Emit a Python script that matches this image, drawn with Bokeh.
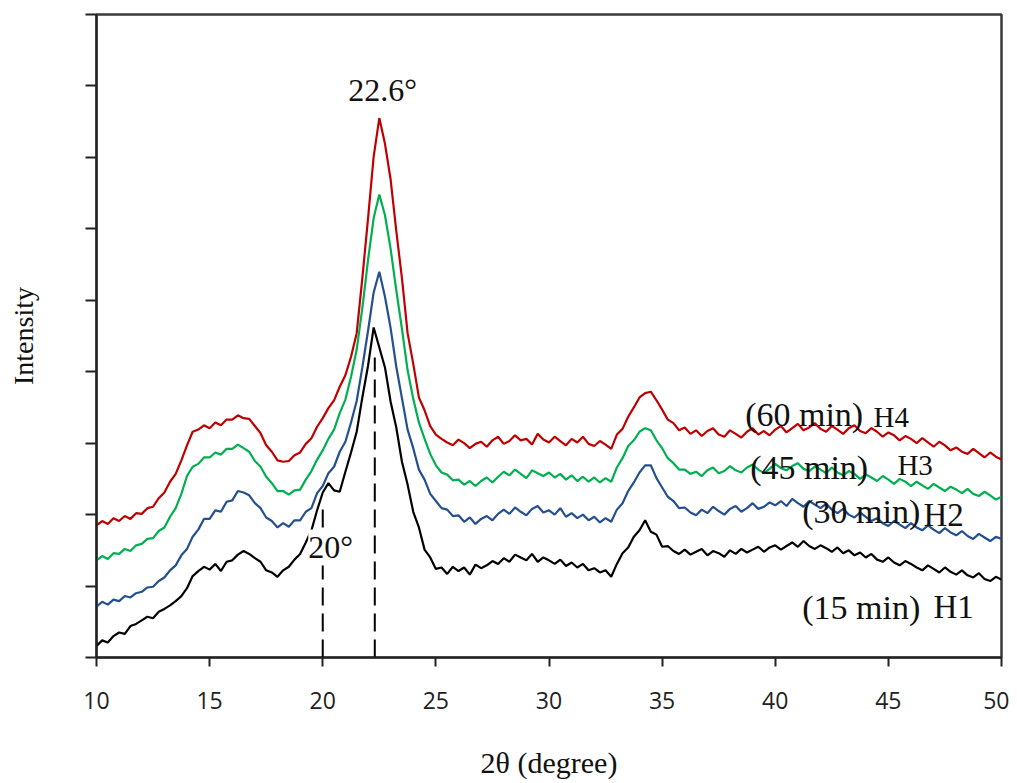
import numpy as np
from bokeh.plotting import figure
from bokeh.models import Label, FixedTicker
from bokeh.core.properties import value
from bokeh.embed import file_html
from bokeh.resources import INLINE

# ---- data (2theta from 10 to 50 deg, step 0.25) ----
X_START = 10.0
X_STEP = 0.25

h1_15min = [
    16, 24, 21, 30, 35, 33, 44, 47,
    52, 57, 55, 64, 68, 73, 79, 86,
    97, 114, 121, 127, 123, 131, 121, 134,
    136, 144, 149, 145, 139, 134, 122, 119,
    113, 122, 127, 137, 145, 161, 178, 206,
    231, 244, 234, 232, 260, 287, 316, 364,
    408, 462, 434, 406, 358, 322, 274, 242,
    204, 182, 151, 140, 124, 126, 117, 127,
    121, 126, 116, 130, 125, 129, 135, 131,
    139, 134, 144, 140, 136, 145, 134, 140,
    136, 131, 137, 128, 133, 126, 131, 122,
    125, 119, 122, 113, 131, 146, 154, 169,
    178, 192, 176, 172, 155, 156, 149, 145,
    151, 144, 148, 152, 143, 149, 146, 141,
    150, 145, 152, 147, 151, 155, 148, 154,
    157, 151, 156, 161, 155, 163, 156, 152,
    157, 153, 148, 154, 146, 150, 143, 147,
    140, 145, 137, 134, 140, 133, 129, 135,
    131, 126, 122, 129, 124, 119, 126, 120,
    116, 122, 115, 112, 118, 110, 107, 113,
    109,
]

h2_30min = [
    71, 78, 74, 81, 79, 86, 84, 90,
    92, 98, 99, 107, 112, 122, 129, 143,
    152, 169, 179, 194, 194, 206, 204, 218,
    220, 233, 231, 227, 216, 209, 196, 191,
    182, 188, 183, 192, 192, 204, 209, 230,
    240, 258, 267, 288, 302, 329, 359, 406,
    457, 511, 540, 505, 461, 407, 363, 319,
    293, 263, 249, 229, 219, 209, 207, 198,
    199, 190, 196, 187, 194, 198, 192, 201,
    207, 201, 210, 204, 199, 208, 212, 203,
    206, 200, 209, 197, 202, 195, 200, 192,
    197, 189, 195, 190, 207, 216, 233, 245,
    259, 269, 269, 251, 238, 225, 219, 209,
    210, 203, 199, 207, 202, 211, 205, 200,
    208, 212, 204, 209, 216, 208, 211, 217,
    213, 219, 212, 222, 216, 211, 219, 214,
    209, 215, 207, 202, 208, 200, 196, 203,
    197, 191, 195, 188, 184, 191, 186, 181,
    188, 182, 178, 185, 179, 174, 181, 175,
    171, 177, 170, 166, 173, 168, 163, 169,
    166,
]

h3_45min = [
    136, 142, 138, 146, 145, 152, 149, 157,
    159, 166, 167, 177, 182, 197, 209, 229,
    254, 267, 271, 280, 280, 287, 284, 292,
    292, 298, 293, 288, 275, 267, 253, 244,
    233, 233, 228, 234, 235, 249, 261, 277,
    290, 306, 319, 342, 361, 393, 431, 489,
    556, 615, 648, 619, 572, 514, 460, 402,
    362, 329, 306, 285, 269, 259, 256, 248,
    249, 242, 247, 240, 247, 252, 245, 253,
    260, 255, 263, 257, 251, 262, 258, 254,
    259, 252, 257, 249, 255, 247, 253, 246,
    252, 245, 251, 246, 266, 279, 296, 304,
    316, 321, 318, 304, 293, 279, 272, 263,
    263, 257, 260, 254, 262, 266, 258, 261,
    268, 262, 259, 266, 270, 263, 258, 264,
    271, 265, 262, 268, 272, 264, 261, 267,
    263, 258, 266, 259, 255, 261, 257, 250,
    256, 252, 247, 254, 249, 243, 250, 246,
    240, 246, 241, 236, 243, 238, 233, 239,
    235, 230, 236, 229, 226, 232, 227, 221,
    225,
]

h4_60min = [
    185, 191, 187, 195, 191, 198, 194, 202,
    201, 209, 211, 223, 231, 246, 257, 276,
    297, 316, 319, 325, 321, 329, 325, 333,
    333, 339, 335, 334, 324, 314, 297, 288,
    276, 274, 275, 283, 287, 299, 307, 323,
    335, 349, 360, 379, 395, 421, 454, 531,
    614, 701, 755, 719, 669, 597, 531, 454,
    411, 364, 346, 324, 312, 306, 301, 297,
    305, 300, 293, 299, 302, 295, 304, 309,
    299, 303, 311, 304, 306, 298, 313, 305,
    301, 309, 303, 297, 306, 301, 309, 299,
    296, 303, 298, 292, 312, 320, 337, 350,
    364, 370, 372, 360, 347, 333, 328, 318,
    322, 313, 318, 310, 317, 321, 312, 309,
    318, 313, 308, 316, 321, 312, 317, 311,
    319, 324, 315, 321, 327, 318, 322, 328,
    320, 316, 324, 319, 313, 321, 325, 317,
    314, 321, 316, 309, 315, 311, 304, 310,
    306, 300, 307, 301, 295, 302, 297, 290,
    294, 288, 285, 292, 286, 280, 287, 281,
    277,
]

series_colors = ["#C00000", "#00B050", "#25508F", "#000000"]
series_values = [h4_60min, h3_45min, h2_30min, h1_15min]

x_ticks = [10, 15, 20, 25, 30, 35, 40, 45, 50]
y_ticks = [0, 100, 200, 300, 400, 500, 600, 700, 800, 900]

# reference dashed markers
dash_x = [20.0, 22.3]
dash_top = [215, 420]

# annotation texts
peak_label = "22.6°"
peak_label_xy = (22.65, 795)
shoulder_label = "20°"
shoulder_label_xy = (20.35, 154)
time_labels = ["(60 min)", "(45 min)", "(30 min)", "(15 min)"]
time_label_x = [38.67, 38.89, 41.19, 41.19]
time_label_y = [340, 266, 204, 70]
h_labels = ["H4", "H3", "H2", "H1"]
h_label_x = [44.34, 45.40, 46.55, 46.99]
h_label_y = [336, 270, 200, 70]
h_label_size = ["29px", "29px", "33px", "33px"]

SERIF = "Liberation Serif"

p = figure(width=1009, height=781, output_backend="svg", toolbar_location=None,
           x_range=(10, 50), y_range=(0, 900),
           min_border_left=96, min_border_right=8, min_border_top=14, min_border_bottom=124)
p.background_fill_color = "white"
p.border_fill_color = "white"
p.grid.visible = False
p.outline_line_color = "#3a3a3a"
p.outline_line_width = 2.5

for vals, col in zip(series_values, series_colors):
    n = len(vals)
    xs = X_START + X_STEP * np.arange(n)
    p.line(xs, vals, line_color=col, line_width=2.2)

p.segment(x0=dash_x, y0=[0, 0], x1=dash_x, y1=dash_top, line_color="black",
          line_width=2, line_dash="18 8")

# axes
p.xaxis.ticker = FixedTicker(ticks=x_ticks)
p.yaxis.ticker = FixedTicker(ticks=y_ticks)
for ax in (p.xaxis[0], p.yaxis[0]):
    ax.axis_line_color = "#222222"
    ax.axis_line_width = 2
    ax.major_tick_line_color = "#222222"
    ax.major_tick_line_width = 2
    ax.major_tick_in = 0
    ax.minor_tick_line_color = None
    ax.axis_label_text_font = SERIF
    ax.axis_label_text_font_style = "normal"
    ax.axis_label_text_color = "#111111"

p.xaxis.major_tick_out = 9
p.xaxis.major_label_text_font = "Open Sans"
p.xaxis.major_label_text_font_size = "23px"
p.xaxis.major_label_text_color = "#222222"
p.xaxis.major_label_standoff = 25
p.xaxis.axis_label = "2θ (degree)"
p.xaxis.axis_label_text_font_size = "30px"
p.xaxis.axis_label_standoff = 34

p.yaxis.major_tick_out = 11
p.yaxis.major_label_overrides = {t: "" for t in y_ticks}
p.yaxis.major_label_standoff = 0
p.yaxis.axis_label = "Intensity"
p.yaxis.axis_label_text_font_size = "28px"
p.yaxis.axis_label_standoff = 47

# annotations
p.text(x=[peak_label_xy[0]], y=[peak_label_xy[1]], text=[peak_label],
       text_font=value(SERIF), text_font_size="32px", text_color="#111111",
       text_align="center", text_baseline="middle")

p.add_layout(Label(x=shoulder_label_xy[0], y=shoulder_label_xy[1], text=shoulder_label,
                   text_font=SERIF, text_font_size="32px", text_color="#111111",
                   text_align="center", text_baseline="middle",
                   background_fill_color="white", background_fill_alpha=1.0))

p.text(x=time_label_x, y=time_label_y, text=time_labels,
       text_font=value(SERIF), text_font_size="34px", text_color="#111111",
       text_align="left", text_baseline="alphabetic")
for t, tx, ty, ts in zip(h_labels, h_label_x, h_label_y, h_label_size):
    p.text(x=[tx], y=[ty], text=[t], text_font=value(SERIF), text_font_size=ts,
           text_color="#111111", text_align="left", text_baseline="alphabetic")

open("out.html", "w").write(file_html(p, INLINE))
